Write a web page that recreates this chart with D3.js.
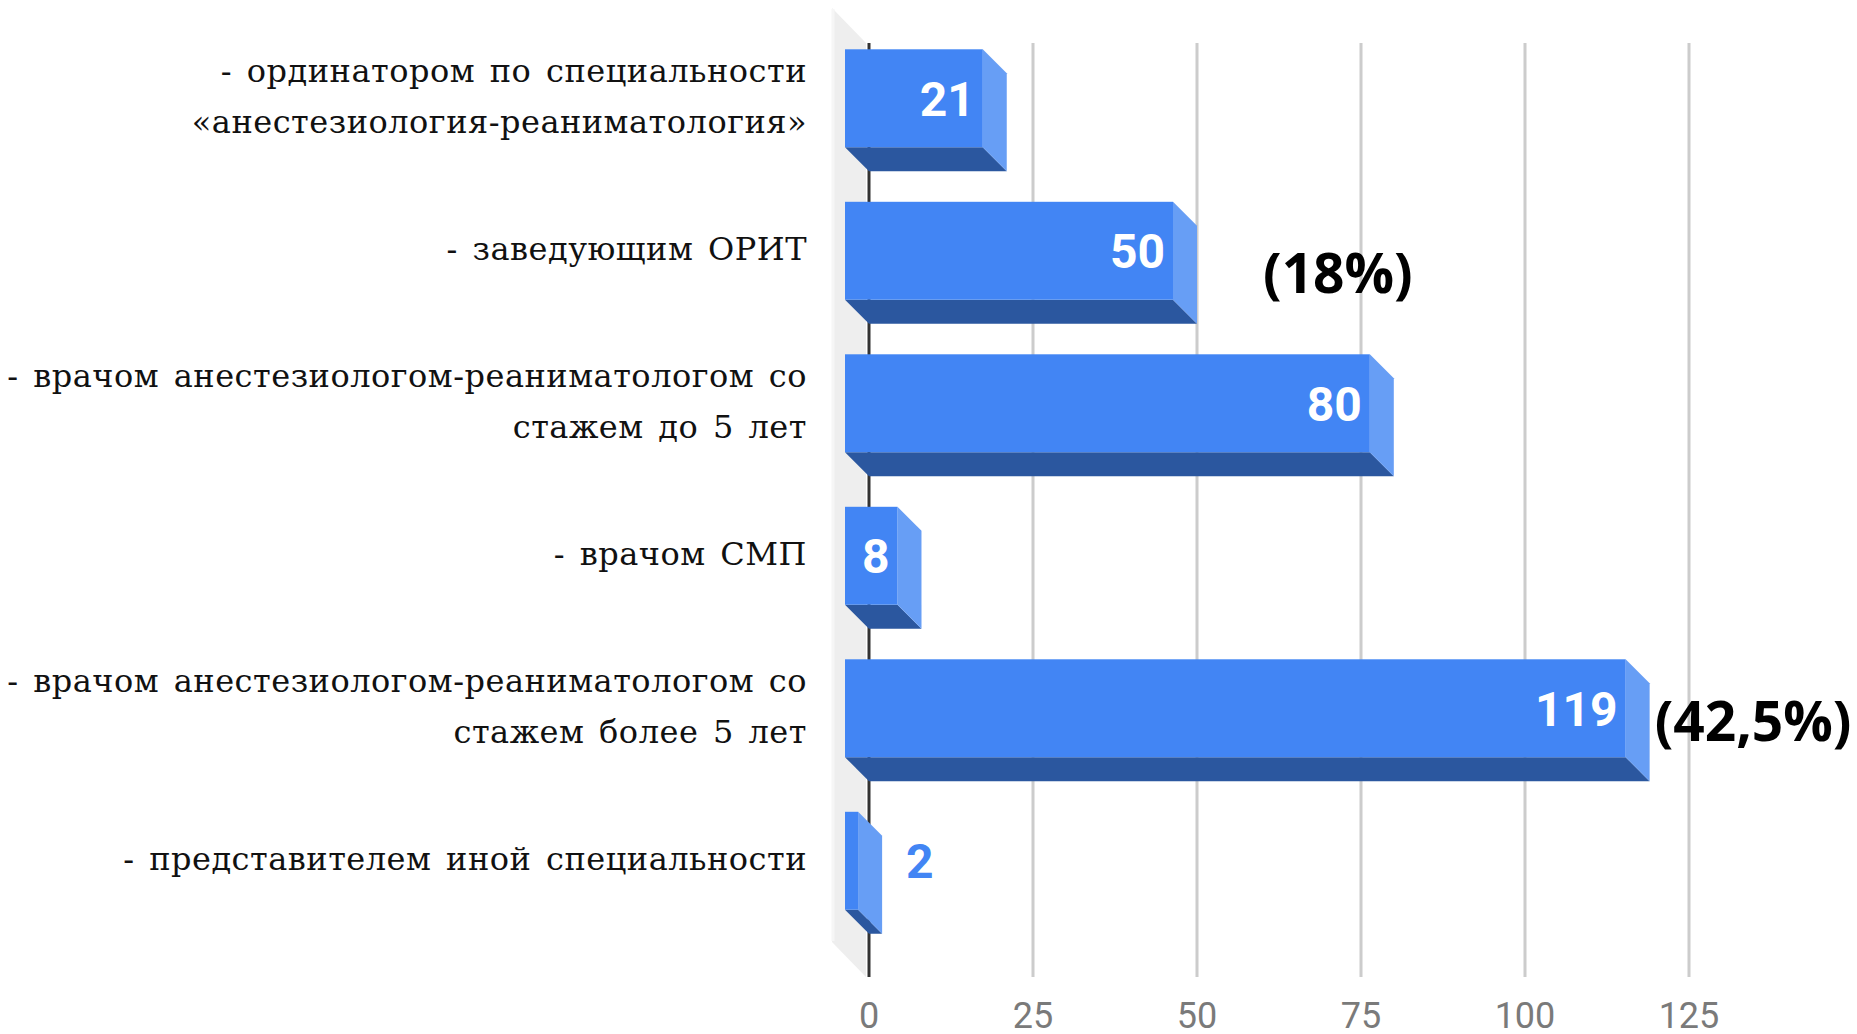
<!DOCTYPE html>
<html>
<head>
<meta charset="utf-8">
<script src="https://cdn.jsdelivr.net/npm/d3@7"></script>
<style>
  body { margin: 0; background: #fff; }
  svg { display: block; }
</style>
</head>
<body>
<div id="chart"></div>
<script>
// categories (each as lines of the label) and values
const categories = ["ord", "zav", "v5", "smp", "v5p", "other"];
const catLabels = [
    ["- ординатором по специальности", "«анестезиология-реаниматология»"],
    ["- заведующим ОРИТ"],
    ["- врачом анестезиологом-реаниматологом со", "стажем до 5 лет"],
    ["- врачом СМП"],
    ["- врачом анестезиологом-реаниматологом со", "стажем более 5 лет"],
    ["- представителем иной специальности"]
];
const values = [21, 50, 80, 8, 119, 2];
const xTicks = [0, 25, 50, 75, 100, 125];

// extra percent notes drawn next to some bars
const noteCats = ["zav", "v5p"];
const noteTexts = ["(18%)", "(42,5%)"];

const width = 1857;
const height = 1034;
const depth = 24;      // 3d offset of bars
const wallDepth = 34;  // 3d offset of the back wall
const plotTop = 43, plotBottom = 977;

const svg = d3.select("#chart")
    .append("svg")
    .attr("width", width)
    .attr("height", height);

const x = d3.scaleLinear()
    .domain([0, 125])
    .range([869, 1689]);

const y = d3.scaleBand()
    .domain(categories)
    .range([46, 961])
    .paddingInner(0.358)
    .paddingOuter(0.179);

const bw = y.bandwidth();

// back wall (gray strip left of the axis)
const x0 = x(0);
svg.append("path")
    .attr("d", `M${x0 - wallDepth - 3},${plotTop - wallDepth - 1} L${x0 - 3},${plotTop} L${x0 - 3},${plotBottom} L${x0 - wallDepth - 3},${plotBottom - wallDepth - 1} Z`)
    .attr("fill", "#eeeeee");
svg.append("line")
    .attr("x1", x0 - wallDepth - 2).attr("x2", x0 - wallDepth - 2)
    .attr("y1", plotTop - wallDepth).attr("y2", plotBottom - wallDepth - 2)
    .attr("stroke", "#f6f6f6").attr("stroke-width", 3);

// gridlines
svg.selectAll(".grid")
    .data(xTicks.filter(d => d !== 0))
    .enter()
    .append("line")
    .attr("class", "grid")
    .attr("x1", d => x(d)).attr("x2", d => x(d))
    .attr("y1", plotTop).attr("y2", plotBottom)
    .attr("stroke", "#cccccc")
    .attr("stroke-width", 3);

// axis line at zero
svg.append("line")
    .attr("x1", x0).attr("x2", x0)
    .attr("y1", plotTop).attr("y2", plotBottom)
    .attr("stroke", "#333333")
    .attr("stroke-width", 3);

// tick labels
svg.selectAll(".tick")
    .data(xTicks)
    .enter()
    .append("text")
    .attr("class", "tick")
    .attr("x", d => x(d))
    .attr("y", 1028)
    .attr("text-anchor", "middle")
    .attr("font-family", "Roboto")
    .attr("font-size", 36)
    .attr("fill", "#7a7a7a")
    .text(d => d);

const bars = svg.selectAll(".bar")
    .data(categories.map((c, i) => ({ cat: c, value: values[i], lines: catLabels[i] })))
    .enter()
    .append("g")
    .attr("class", "bar");

// bottom face
bars.append("path")
    .attr("fill", "#2b579f")
    .attr("d", d => {
        const top = y(d.cat) - depth, xe = x(d.value) - depth;
        return `M${x0 - depth},${top + bw} L${xe},${top + bw} L${xe + depth},${top + bw + depth} L${x0},${top + bw + depth} Z`;
    });

// side face
bars.append("path")
    .attr("fill", "#679ef5")
    .attr("d", d => {
        const top = y(d.cat) - depth, xe = x(d.value) - depth;
        return `M${xe},${top} L${xe + depth},${top + depth} L${xe + depth},${top + bw + depth} L${xe},${top + bw} Z`;
    });

// front face
bars.append("rect")
    .attr("x", x0 - depth)
    .attr("y", d => y(d.cat) - depth)
    .attr("width", d => x(d.value) - x0)
    .attr("height", bw)
    .attr("fill", "#4285f4");

// value labels
const inside = d => (x(d.value) - x0) >= 45;
bars.append("text")
    .attr("x", d => inside(d) ? x(d.value) - depth - 8 : x(d.value) + 24)
    .attr("y", d => y(d.cat) - depth + bw / 2)
    .attr("dy", "0.36em")
    .attr("text-anchor", d => inside(d) ? "end" : "start")
    .attr("font-family", "Roboto")
    .attr("font-weight", 700)
    .attr("font-size", 48)
    .attr("fill", d => inside(d) ? "#ffffff" : "#4285f4")
    .text(d => d.value);

// category labels
const lineH = 51;
bars.each(function(d) {
    const cy = y(d.cat) - depth + bw / 2;
    const n = d.lines.length;
    d3.select(this).selectAll(".cat")
        .data(d.lines)
        .enter()
        .append("text")
        .attr("class", "cat")
        .attr("x", 807)
        .attr("y", (t, i) => cy + 9 - (n - 1) * lineH / 2 + i * lineH)
        .attr("text-anchor", "end")
        .attr("font-family", "DejaVu Serif")
        .attr("font-size", 32)
        .attr("letter-spacing", 0.5)
        .attr("word-spacing", 4)
        .attr("fill", "#111")
        .text(t => t);
});

// percent notes
const noteOffset = { zav: [66, 91], v5p: [5, 82] };
noteCats.forEach((c, i) => {
    const v = values[categories.indexOf(c)];
    svg.append("text")
        .attr("x", x(v) + noteOffset[c][0])
        .attr("y", y(c) - depth + noteOffset[c][1])
        .attr("font-family", "Open Sans")
        .attr("font-weight", 700)
        .attr("font-size", 55)
        .attr("fill", "#000")
        .text(noteTexts[i]);
});
</script>
</body>
</html>
